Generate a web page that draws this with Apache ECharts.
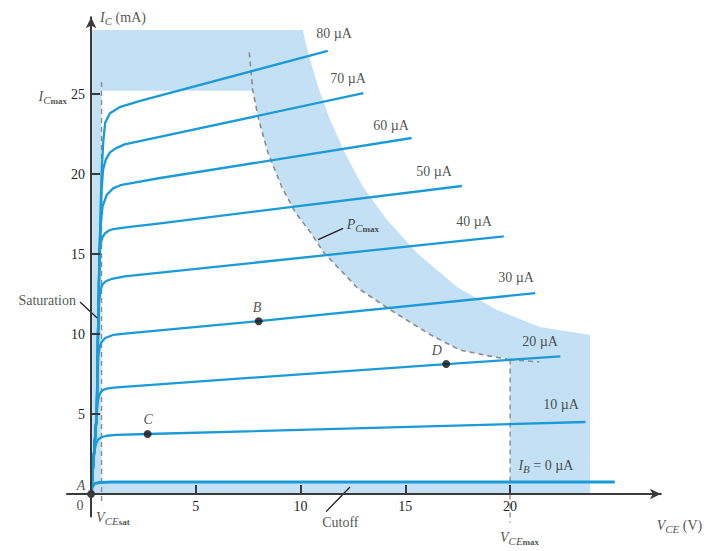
<!DOCTYPE html>
<html>
<head>
<meta charset="utf-8">
<script src="https://cdn.jsdelivr.net/npm/echarts@6/dist/echarts.min.js"></script>
<style>
  html, body { margin: 0; padding: 0; background: #fff; }
  #chart { width: 705px; height: 551px; }
</style>
</head>
<body>
<div id="chart"></div>
<script>
// Transistor collector characteristics: I_C (mA) against V_CE (V), one curve per base current I_B.

// ---- data ----
const xTicks = [5, 10, 15, 20];
const yTicks = [5, 10, 15, 20, 25];

const curveNames = ['I_B = 0 µA', '10 µA', '20 µA', '30 µA', '40 µA', '50 µA', '60 µA', '70 µA', '80 µA'];

// [V_CE, I_C] points for each base current
const ib0  = [[0, 0], [0.05, 0.4], [0.15, 0.65], [0.4, 0.72], [1.0, 0.75], [25.0, 0.75]];
const ib10 = [[0, 0], [0.11, 2], [0.17, 2.75], [0.25, 3.2], [0.35, 3.42], [0.5, 3.55], [0.75, 3.64], [1.2, 3.7], [2.7, 3.75], [23.6, 4.5]];
const ib20 = [[0, 0], [0.11, 2], [0.27, 5], [0.32, 5.8], [0.38, 6.15], [0.47, 6.38], [0.6, 6.52], [0.8, 6.6], [1.22, 6.67], [16.95, 8.12], [22.4, 8.6]];
const ib30 = [[0, 0], [0.11, 2], [0.27, 5], [0.31, 7.5], [0.35, 8.7], [0.41, 9.2], [0.5, 9.5], [0.67, 9.75], [1.05, 9.94], [1.86, 10.05], [8.0, 10.8], [21.2, 12.55]];
const ib40 = [[0, 0], [0.11, 2], [0.27, 5], [0.33, 10], [0.38, 12.0], [0.45, 12.75], [0.55, 13.1], [0.7, 13.3], [1.0, 13.45], [1.6, 13.6], [19.7, 16.1]];
const ib50 = [[0, 0], [0.11, 2], [0.27, 5], [0.33, 10], [0.4, 15], [0.46, 15.7], [0.55, 16.05], [0.67, 16.3], [0.85, 16.47], [1.05, 16.56], [1.86, 16.7], [3.3, 16.92], [17.7, 19.25]];
const ib60 = [[0, 0], [0.11, 2], [0.27, 5], [0.33, 10], [0.4, 15], [0.47, 17.0], [0.55, 18.0], [0.75, 18.7], [1.05, 19.1], [1.4, 19.3], [1.86, 19.42], [3.3, 19.75], [15.3, 22.25]];
const ib70 = [[0, 0], [0.11, 2], [0.27, 5], [0.33, 10], [0.4, 15], [0.5, 19.0], [0.57, 20.25], [0.7, 20.9], [0.9, 21.35], [1.2, 21.62], [1.6, 21.85], [13.0, 25.05]];
const ib80 = [[0, 0], [0.11, 2], [0.27, 5], [0.33, 10], [0.4, 15], [0.5, 20.0], [0.58, 22.0], [0.67, 23.2], [0.9, 23.8], [1.4, 24.2], [2.3, 24.56], [11.3, 27.7]];
const curves = [ib0, ib10, ib20, ib30, ib40, ib50, ib60, ib70, ib80];

// where each curve's I_B label sits [V_CE, I_C]
const curveLabelAt = [[20.4, 1.7], [22.43, 5.56], [21.43, 9.44], [20.29, 13.5], [18.28, 17.0], [16.37, 20.1], [14.32, 23.0], [12.27, 25.9], [11.6, 28.7]];

// operating points
const pointNames = ['A', 'B', 'C', 'D'];
const pointValues = [[0, 0], [8.0, 10.8], [2.7, 3.75], [16.95, 8.12]];
const pointLabelAt = [[-0.48, 0.44], [7.92, 11.6], [2.72, 4.6], [16.5, 8.9]];

// maximum power dissipation curve P_C max
const pcMaxCurve = [[7.55, 27.6], [7.72, 25.2], [8.0, 23.4], [8.45, 21.3], [9.1, 19.2], [9.75, 17.6], [10.5, 16.3],
  [11.1, 15.1], [12.7, 12.9], [14.3, 11.5], [16.2, 9.95], [17.6, 9.0], [18.9, 8.65], [20.0, 8.4]];
const pcMaxTail = [[20.0, 8.4], [21.4, 8.25]];

// limits
const iCmax = 25.2;
const vCEsat = 0.5;
const vCEmax = 20;
const iCutoff = 0.8;

// outer edge of the shaded (outside safe operation) band
const outerEdge = [[0.05, 0.05], [0.05, 29.0], [10.1, 29.0], [10.36, 27.56], [10.84, 25.44], [11.41, 23.38], [12.12, 21.31],
  [12.98, 19.19], [14.13, 17.13], [15.56, 15.06], [17.47, 12.94], [19.38, 11.5], [21.43, 10.44], [23.82, 9.94], [23.82, 0.05]];

// ---- derived geometry ----
const safeRegion = [[vCEsat, iCutoff], [vCEsat, iCmax]]
  .concat(pcMaxCurve.slice(1))
  .concat([[vCEmax, iCutoff]]);
const vceSatLine = [[vCEsat, 25.75], [vCEsat, -0.7]];
const vceMaxLine = [[vCEmax, 8.4], [vCEmax, -1.8]];
const leaders = [
  [[-0.53, 12.0], [0.29, 11.0]],    // Saturation
  [[11.22, -1.1], [12.36, 0.44]],   // Cutoff
  [[10.84, 15.9], [12.03, 16.6]]    // P_C max
];

// ---- styling ----
const SERIF = '"Liberation Serif", "DejaVu Serif", serif';
const INK = '#231f20';
const SHADE = '#c4e0f5';
const CURVE = '#1a9bd7';
const DASH = '#8c8c8c';

const rich = {
  m:  { fontFamily: SERIF, fontSize: 14, color: INK, lineHeight: 16, verticalAlign: 'top' },
  mi: { fontFamily: SERIF, fontSize: 14, color: INK, lineHeight: 16, verticalAlign: 'top', fontStyle: 'italic' },
  s:  { fontFamily: SERIF, fontSize: 11, color: INK, verticalAlign: 'bottom', fontStyle: 'italic' },
  ss: { fontFamily: SERIF, fontSize: 9, color: INK, verticalAlign: 'bottom', fontWeight: 'bold' }
};

function curveLabelText(name) {
  if (name.startsWith('I_B')) return '{mi|I}{s|B}{m| = 0 µA}';
  return '{m|' + name + '}';
}

// text annotations: [V_CE, I_C], rich text, which side of the anchor the text sits
const notes = [
  { at: [0.43, 29.75], text: '{mi|I}{s|C}{m| (mA)}', side: 'right' },
  { at: [-1.15, 24.8], text: '{mi|I}{s|C}{ss|max}', side: 'left' },
  { at: [-0.72, 12.06], text: '{m|Saturation}', side: 'left' },
  { at: [-0.53, -0.75], text: '{m|0}', side: 'inside' },
  { at: [0.24, -1.5], text: '{mi|V}{s|CE}{ss|sat}', side: 'right' },
  { at: [11.9, -1.85], text: '{m|Cutoff}', side: 'inside' },
  { at: [27.0, -2.0], text: '{mi|V}{s|CE}{m| (V)}', side: 'right' },
  { at: [19.52, -2.75], text: '{mi|V}{s|CE}{ss|max}', side: 'right' },
  { at: [12.2, 16.8], text: '{mi|P}{s|C}{ss|max}', side: 'right' }
];
curveNames.forEach((n, k) => {
  notes.push({ at: curveLabelAt[k], text: curveLabelText(n), side: k === 0 ? 'right' : 'inside' });
});
pointNames.forEach((n, k) => {
  notes.push({ at: pointLabelAt[k], text: '{mi|' + n + '}', side: 'inside' });
});

function polygonSeries(name, pts, fill, z) {
  return {
    type: 'custom', name, coordinateSystem: 'cartesian2d', z, silent: true,
    data: [[0, 0]],
    renderItem: (params, api) => ({
      type: 'polygon',
      shape: { points: pts.map(p => api.coord(p)) },
      style: { fill }
    })
  };
}

function plainLine(name, data, color, width, type, z) {
  return {
    type: 'line', name, data, z, clip: false, silent: true,
    symbol: 'none', lineStyle: { color, width, type }
  };
}

const series = [
  polygonSeries('shaded', outerEdge, SHADE, 1),
  polygonSeries('safe', safeRegion, '#ffffff', 2),
  plainLine('PCmax', pcMaxCurve, DASH, 1.6, [5, 4], 3),
  plainLine('PCmaxTail', pcMaxTail, DASH, 1.6, [5, 4], 3),
  plainLine('VCEsat', vceSatLine, DASH, 1.4, [5, 4], 3),
  plainLine('VCEmax', vceMaxLine, DASH, 1.4, [5, 4], 3)
];

curves.forEach((c, k) => {
  series.push({
    type: 'line', name: curveNames[k], data: c, z: 5, silent: true,
    symbol: 'none', smooth: false,
    lineStyle: { color: CURVE, width: k === 0 ? 3 : 2.3, join: 'round' }
  });
});

leaders.forEach((l, k) => series.push(plainLine('leader' + k, l, INK, 1.3, 'solid', 6)));

series.push({
  type: 'scatter', name: 'points', z: 8, silent: true, clip: false,
  data: pointValues, symbolSize: 8,
  itemStyle: { color: '#111' }
});

series.push({
  type: 'scatter', name: 'notes', z: 9, silent: true, clip: false,
  symbolSize: 0,
  data: notes.map(n => ({
    value: n.at,
    label: { show: true, position: n.side, distance: 0, formatter: n.text, rich }
  })),
  label: { show: true, color: INK, fontFamily: SERIF, fontSize: 14 }
});

const axisCommon = {
  type: 'value',
  z: 10,
  splitLine: { show: false },
  axisLine: {
    show: true, onZero: true,
    symbol: ['none', 'arrow'], symbolSize: [8, 11],
    lineStyle: { color: '#3a3a3a', width: 2 }
  },
  axisTick: { show: true, inside: true, length: 9, lineStyle: { color: '#3a3a3a', width: 2 } },
  axisLabel: { fontFamily: SERIF, fontSize: 14, color: INK }
};

const option = {
  animation: false,
  backgroundColor: '#ffffff',
  grid: { left: 67, top: 17.2, width: 593.9, height: 499.2, containLabel: false },
  xAxis: Object.assign({}, axisCommon, {
    min: -1.15, max: 27.2,
    axisTick: Object.assign({}, axisCommon.axisTick, { customValues: xTicks }),
    axisLabel: Object.assign({}, axisCommon.axisLabel, { customValues: xTicks, margin: -17 })
  }),
  yAxis: Object.assign({}, axisCommon, {
    min: -1.4, max: 29.8,
    axisTick: Object.assign({}, axisCommon.axisTick, { customValues: yTicks }),
    axisLabel: Object.assign({}, axisCommon.axisLabel, { customValues: yTicks, margin: -18 })
  }),
  series
};

const chart = echarts.init(document.getElementById('chart'), null, { renderer: 'svg' });
chart.setOption(option);
</script>
</body>
</html>
